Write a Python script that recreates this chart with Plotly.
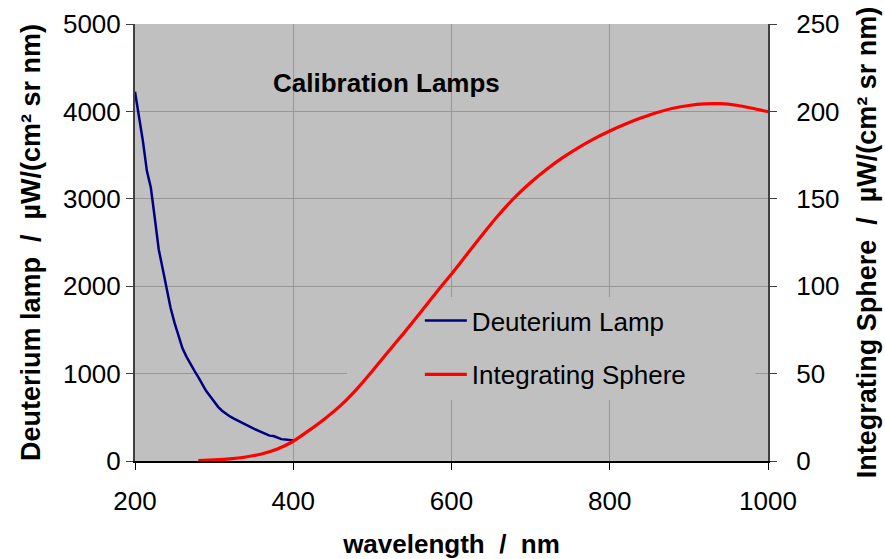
import plotly.graph_objects as go

# Deuterium lamp (left axis, µW/(cm² sr nm))
wl_deut = [200, 205, 210, 215, 220, 225, 230, 235, 240, 245, 250, 255, 260, 265, 270,
           275, 280, 285, 290, 295, 300, 305, 310, 315, 320, 325, 330, 335, 340, 345,
           350, 355, 360, 365, 370, 375, 380, 385, 390, 395, 400]
val_deut = [4225, 3950, 3660, 3320, 3130, 2780, 2420, 2200, 1960, 1750, 1580, 1420, 1290, 1195, 1110,
            1035, 960, 880, 800, 740, 675, 620, 575, 540, 510, 485, 460, 440, 415, 393,
            370, 350, 328, 310, 290, 285, 265, 250, 245, 240, 236]

# Integrating sphere (right axis, µW/(cm² sr nm))
wl_sphere = [280, 300, 320, 340, 360, 380, 400, 420, 440, 460, 480, 500, 520, 540, 560,
             580, 600, 620, 640, 660, 680, 700, 720, 740, 760, 780, 800, 820, 840, 860,
             880, 900, 920, 940, 960, 980, 1000]
val_sphere = [0.3, 0.6, 1.2, 2.3, 4.0, 6.8, 11.3, 17.5, 24.2, 31.8, 41.0, 51.5, 62.5, 73.3, 84.5,
              96.0, 107.0, 118.5, 130.0, 141.0, 150.8, 159.3, 166.8, 173.4, 179.2, 184.3, 188.8, 192.8, 196.3, 199.4,
              201.8, 203.4, 204.3, 204.4, 203.5, 201.8, 199.8]

x_ticks = [200, 400, 600, 800, 1000]
y_left_ticks = [0, 1000, 2000, 3000, 4000, 5000]
y_right_ticks = [0, 50, 100, 150, 200, 250]

FONT = "Arial, Liberation Sans, sans-serif"
PLOT_BG = "#C0C0C0"
GRID = "#979797"

fig = go.Figure()
fig.add_trace(go.Scatter(x=wl_deut, y=val_deut, mode="lines", name="Deuterium Lamp",
                         line=dict(color="#000080", width=2.5), legendgroup="a"))
fig.add_trace(go.Scatter(x=wl_sphere, y=val_sphere, mode="lines", name="Integrating Sphere",
                         line=dict(color="#FF0000", width=3.2, shape="spline", smoothing=0.6),
                         yaxis="y2", legendgroup="b"))

# legend background patch (hides gridlines, sits under the traces)
fig.add_shape(type="rect", xref="x", yref="y", x0=468, x1=984, y0=698, y1=1876,
              fillcolor=PLOT_BG, line=dict(width=0), layer="between")

fig.add_annotation(text="<b>Calibration Lamps</b>", xref="paper", yref="paper",
                   x=0.397, y=0.865, xanchor="center", yanchor="middle", showarrow=False,
                   font=dict(family=FONT, size=26, color="black"))

fig.update_layout(
    width=885, height=559,
    margin=dict(l=135, r=117, t=24, b=98, autoexpand=False),
    paper_bgcolor="white", plot_bgcolor=PLOT_BG,
    font=dict(family=FONT, size=26, color="black"),
    showlegend=True,
    legend=dict(x=0.45, y=0.375, xanchor="left", yanchor="top",
                bgcolor="rgba(0,0,0,0)", borderwidth=0,
                font=dict(family=FONT, size=26, color="black"),
                itemwidth=42, traceorder="grouped", tracegroupgap=17),
    xaxis=dict(range=[200, 1000], tickvals=x_ticks, showgrid=True, gridcolor=GRID, gridwidth=1,
               zeroline=False, showline=True, linecolor="black", linewidth=1.5,
               ticks="outside", ticklen=7, tickcolor="black", ticklabelstandoff=9,
               title=dict(text="<b>wavelength  /  nm</b>", font=dict(size=26), standoff=21)),
    yaxis=dict(range=[0, 5000], tickvals=y_left_ticks, showgrid=True, gridcolor=GRID, gridwidth=1,
               zeroline=False, showline=True, linecolor="#404040", linewidth=2,
               ticks="outside", ticklen=7, tickcolor="#404040",
               title=dict(text="<b>Deuterium lamp  /  µW/(cm² sr nm)</b>", font=dict(size=27), standoff=15)),
    yaxis2=dict(range=[0, 250], tickvals=y_right_ticks, overlaying="y", side="right",
                showgrid=False, zeroline=False, showline=True, linecolor="#404040", linewidth=2,
                ticks="outside", ticklen=7, tickcolor="#404040", ticklabelstandoff=14,
                title=dict(text="<b>Integrating Sphere  /  µW/(cm² sr nm)</b>", font=dict(size=27), standoff=19)),
)

fig.write_html("out.html")
